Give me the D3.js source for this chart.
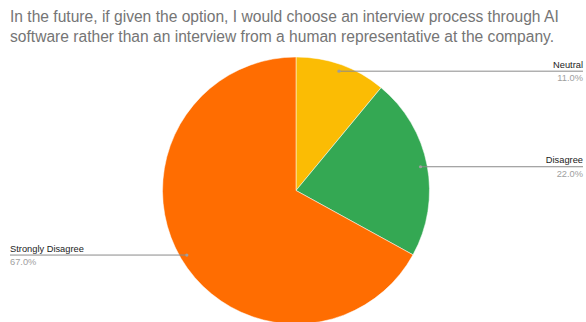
<!DOCTYPE html>
<html>
<head>
<meta charset="utf-8">
<script src="https://cdn.jsdelivr.net/npm/d3@7"></script>
<style>
  html, body { margin: 0; padding: 0; background: #fff; }
  svg { display: block; font-family: "Liberation Sans", Arial, sans-serif; }
</style>
</head>
<body>
<svg id="chart" width="586" height="322"></svg>
<script>
// Survey responses
const categories = ["Neutral", "Disagree", "Strongly Disagree"];
const values = [11.0, 22.0, 67.0];
const colors = ["#fbbc04", "#34a853", "#ff6d01"];
const titleLines = [
  "In the future, if given the option, I would choose an interview process through AI",
  "software rather than an interview from a human representative at the company."
];

const W = 586, H = 322;
const cx = 296, cy = 190.5, R = 133.5;
const svg = d3.select("#chart");

// Title
svg.append("g").selectAll("text")
  .data(titleLines)
  .join("text")
  .attr("x", 10)
  .attr("y", (d, i) => 21.5 + i * 20)
  .attr("fill", "#757575")
  .attr("font-size", 15.6)
  .text(d => d);

const data = categories.map((c, i) => ({ name: c, value: values[i], color: colors[i] }));
const pie = d3.pie().sort(null).value(d => d.value);
const arcs = pie(data);
const arc = d3.arc().innerRadius(0).outerRadius(R);

const g = svg.append("g").attr("transform", `translate(${cx},${cy})`);
g.selectAll("path")
  .data(arcs)
  .join("path")
  .attr("d", arc)
  .attr("fill", d => d.data.color)
  .attr("stroke", "#fff")
  .attr("stroke-width", 0.5);

// Leader lines and labels
const anchorR = R * 0.95;
const labels = svg.append("g");
arcs.forEach(a => {
  const mid = (a.startAngle + a.endAngle) / 2;
  const px = cx + anchorR * Math.sin(mid);
  const py = cy - anchorR * Math.cos(mid);
  const right = Math.sin(mid) >= 0;
  const endX = right ? 583 : 10;
  labels.append("line")
    .attr("x1", px).attr("y1", py)
    .attr("x2", endX).attr("y2", py)
    .attr("stroke", "#8a8a8a").attr("stroke-width", 1);
  labels.append("circle")
    .attr("cx", px).attr("cy", py).attr("r", 1.6)
    .attr("fill", "#9e9e9e");
  labels.append("text")
    .attr("x", endX).attr("y", py - 3.5)
    .attr("text-anchor", right ? "end" : "start")
    .attr("font-size", 9.3)
    .attr("fill", "#222")
    .text(a.data.name);
  labels.append("text")
    .attr("x", endX).attr("y", py + 10)
    .attr("text-anchor", right ? "end" : "start")
    .attr("font-size", 9.3)
    .attr("fill", "#a0a0a0")
    .text(d3.format(".1f")(a.data.value) + "%");
});
</script>
</body>
</html>
